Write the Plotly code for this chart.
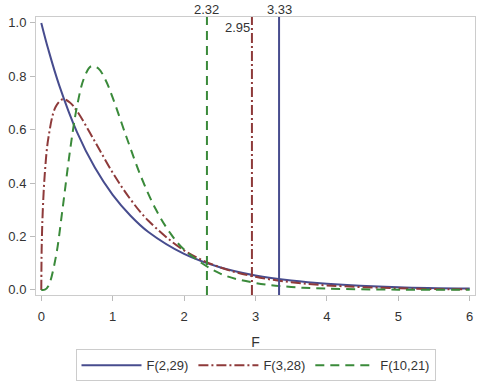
import plotly.graph_objects as go

# Densities
x_f229 = [0, 0.1, 0.25, 0.5, 0.75, 1, 1.25, 1.5, 2, 2.5, 3, 3.5, 4, 5, 6]
y_f229 = [1.0, 0.899, 0.767, 0.591, 0.458, 0.356, 0.278, 0.217, 0.135, 0.085, 0.054, 0.035, 0.023, 0.010, 0.005]

x_f328 = [0, 0.005, 0.01, 0.02, 0.05, 0.1, 0.2, 0.3, 0.4, 0.5, 0.75, 1, 1.25, 1.5, 2, 2.5, 3, 3.5, 4, 5, 6]
y_f328 = [0, 0.149, 0.209, 0.291, 0.438, 0.570, 0.685, 0.714, 0.702, 0.670, 0.556, 0.439, 0.339, 0.259, 0.148, 0.085, 0.049, 0.029, 0.017, 0.006, 0.002]

x_f1021 = [0, 0.05, 0.1, 0.2, 0.3, 0.4, 0.5, 0.6, 0.7, 0.8, 0.9, 1.0, 1.2, 1.4, 1.6, 1.8, 2.0, 2.5, 3, 3.5, 4, 5, 6]
y_f1021 = [0, 0.001, 0.015, 0.118, 0.308, 0.517, 0.687, 0.794, 0.838, 0.829, 0.786, 0.720, 0.567, 0.422, 0.304, 0.215, 0.151, 0.062, 0.026, 0.011, 0.005, 0.001, 0.0003]

series_names = ["F(2,29)", "F(3,28)", "F(10,21)"]
crit_values = [3.33, 2.95, 2.32]
crit_labels = ["3.33", "2.95", "2.32"]

colors = ["#474C8E", "#8E3A3A", "#3A8A3A"]
dashes = ["solid", "10px,3px,2px,3px", "9px,6px"]

fig = go.Figure()
for xs, ys, name, c, d in zip([x_f229, x_f328, x_f1021], [y_f229, y_f328, y_f1021],
                              series_names, colors, dashes):
    fig.add_trace(go.Scatter(x=xs, y=ys, mode="lines", name=name,
                             line=dict(color=c, width=2, dash=d, shape="spline", smoothing=1.0)))

for v, lab, c, d in zip(crit_values, crit_labels, colors, dashes):
    fig.add_shape(type="line", xref="x", yref="paper", x0=v, x1=v, y0=0, y1=1,
                  line=dict(color=c, width=2, dash=d))

lab_font = dict(size=13, color="#333333")
fig.add_annotation(x=crit_values[0], y=1, xref="x", yref="paper", text=crit_labels[0],
                   showarrow=False, yanchor="bottom", xanchor="center", yshift=-2, font=lab_font)
fig.add_annotation(x=crit_values[2], y=1, xref="x", yref="paper", text=crit_labels[2],
                   showarrow=False, yanchor="bottom", xanchor="center", yshift=-2, font=lab_font)
fig.add_annotation(x=crit_values[1], y=1, xref="x", yref="paper", text=crit_labels[1],
                   showarrow=False, yanchor="top", xanchor="right", yshift=-1, xshift=0, font=lab_font)

axis_common = dict(showgrid=False, zeroline=False, showline=True, mirror=True,
                   linecolor="#CCCCCC", linewidth=1, ticks="outside", ticklen=5,
                   tickcolor="#BBBBBB", tickfont=dict(size=13, color="#333333"),
                   automargin=False)

fig.update_xaxes(range=[-0.074, 6.074], tickvals=[0, 1, 2, 3, 4, 5, 6], ticklabelstandoff=4,
                 title=dict(text="F", font=dict(size=14, color="#333333"), standoff=14),
                 **axis_common)
fig.update_yaxes(range=[-0.019, 1.022], tickvals=[0, 0.2, 0.4, 0.6, 0.8, 1.0],
                 tickformat=".1f", ticklabelstandoff=1, **axis_common)

fig.update_layout(
    width=480, height=384,
    margin=dict(l=36, r=5, t=17, b=89, autoexpand=False),
    paper_bgcolor="white", plot_bgcolor="white",
    font=dict(family="Liberation Sans, Arial, sans-serif", color="#333333"),
    legend=dict(orientation="h", x=0.5, xanchor="center", y=-0.195, yanchor="top",
                bordercolor="#CCCCCC", borderwidth=1, font=dict(size=13, color="#333333"),
                itemwidth=60, tracegroupgap=0),
)

fig.write_html("out.html")
